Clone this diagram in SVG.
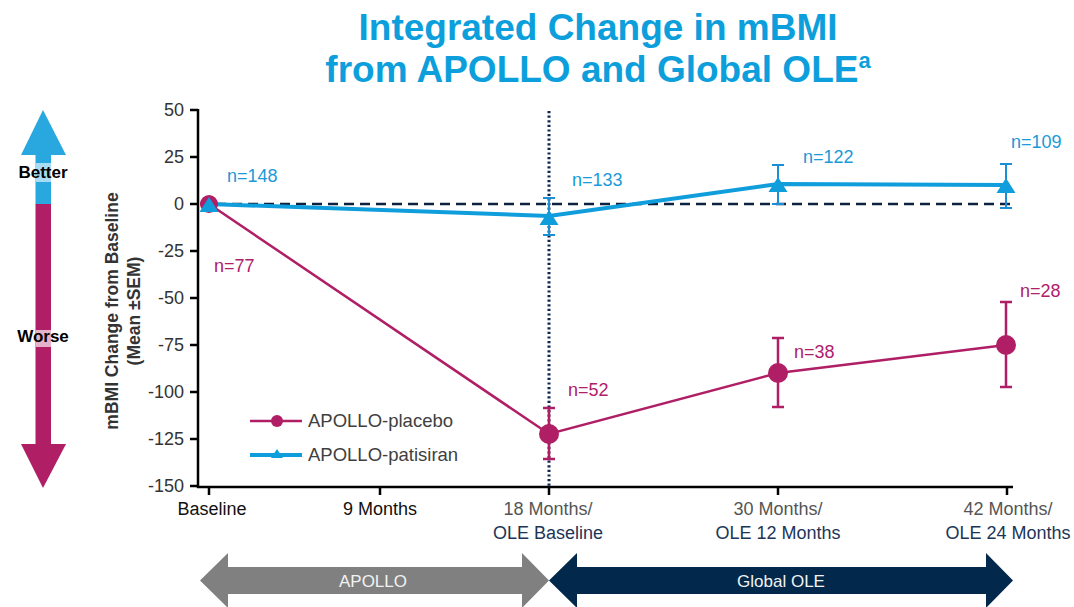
<svg xmlns="http://www.w3.org/2000/svg" width="1074" height="607" viewBox="0 0 1074 607">
<style>
text{font-family:"Liberation Sans",Arial,sans-serif}
.title{font-size:37px;font-weight:bold;fill:#0c9fdc;text-anchor:middle}
.tick{font-size:18px;fill:#333;text-anchor:end}
.xl{font-size:18px;text-anchor:middle}
.nb{font-size:18px;fill:#1a9ad8}
.nm{font-size:18px;fill:#b0206a}
.leg{font-size:18.5px;fill:#404040}
.bw{font-size:17px;font-weight:bold;fill:#000;text-anchor:middle}
.yt{font-size:17.5px;font-weight:bold;fill:#333;text-anchor:middle}
.ax{stroke:#000;stroke-width:2.5;fill:none}
.blue{stroke:#0f9ddb;stroke-width:4;fill:none}
.mag{stroke:#b01f65;stroke-width:2.5;fill:none}
.eb{stroke:#1a8fd6;stroke-width:2;fill:none}
.em{stroke:#b01f65;stroke-width:2.5;fill:none}
.tri{fill:#0f9ddb}
.dot{fill:#b01f65}
.band{font-size:17px;fill:#f2f2f2;text-anchor:middle}
</style>
<defs>
<path id="tr" d="M0,-8 L9.5,7 L-9.5,7 Z"/>
</defs>

<g id="title">
<text class="title" x="598" y="40">Integrated Change in mBMI</text>
<text class="title" x="598" y="82">from APOLLO and Global OLE<tspan font-size="22" dy="-14">a</tspan></text>
</g>

<g id="better-worse-arrow">
<polygon points="43,110 66,155 21,155" fill="#29a8e0"/>
<rect x="35.5" y="154" width="15.5" height="50.5" fill="#29a8e0"/>
<rect x="35.5" y="204" width="15.5" height="241" fill="#b01f65"/>
<polygon points="21,444 66,444 43,488" fill="#b01f65"/>
<rect x="35.5" y="163" width="15.5" height="19" fill="#a8dcf4"/>
<rect x="35.5" y="330" width="15.5" height="17" fill="#e6b2ca"/>
<text class="bw" x="43" y="178">Better</text>
<text class="bw" x="43" y="342">Worse</text>
</g>

<g id="y-axis">
<text class="yt" transform="translate(118,311) rotate(-90)">mBMI Change from Baseline</text>
<text class="yt" transform="translate(140,311) rotate(-90)">(Mean ±SEM)</text>
<line class="ax" x1="198" y1="109" x2="198" y2="488"/>
<path class="ax" d="M190,110H198M190,157H198M190,204H198M190,251H198M190,298H198M190,345H198M190,392H198M190,439H198M190,486H198"/>
<text class="tick" x="184" y="116">50</text>
<text class="tick" x="184" y="163">25</text>
<text class="tick" x="184" y="210">0</text>
<text class="tick" x="184" y="257">-25</text>
<text class="tick" x="184" y="304">-50</text>
<text class="tick" x="184" y="351">-75</text>
<text class="tick" x="184" y="398">-100</text>
<text class="tick" x="184" y="445">-125</text>
<text class="tick" x="184" y="492">-150</text>
</g>

<g id="x-axis">
<line class="ax" x1="197" y1="487" x2="1013" y2="487"/>
<path class="ax" d="M209,487V495M380,487V495M549,487V495M778,487V495M1007,487V495"/>
<text class="xl" x="212" y="515" fill="#111">Baseline</text>
<text class="xl" x="380" y="515" fill="#111">9 Months</text>
<text class="xl" x="548" y="515" fill="#555">18 Months/</text>
<text class="xl" x="548" y="539" fill="#1c3557">OLE Baseline</text>
<text class="xl" x="778" y="515" fill="#555">30 Months/</text>
<text class="xl" x="778" y="539" fill="#1c3557">OLE 12 Months</text>
<text class="xl" x="1008" y="515" fill="#555">42 Months/</text>
<text class="xl" x="1008" y="539" fill="#1c3557">OLE 24 Months</text>
</g>

<g id="connectors">
<line x1="200" y1="204" x2="1016" y2="204" stroke="#0d2240" stroke-width="2.5" stroke-dasharray="10 6"/>
<line x1="549" y1="111" x2="549" y2="486" stroke="#0f2650" stroke-width="3" stroke-dasharray="2.2 2.4"/>
<polyline class="mag" points="209,204 549,434 778,373 1006,345"/>
<polyline class="blue" points="209,204 549,216 778,184 1006,185"/>
</g>

<g id="placebo-points">
<path class="em" d="M549,408V459M543,408H555M543,459H555"/>
<path class="em" d="M778,338V407M772,338H784M772,407H784"/>
<path class="em" d="M1006,302V387M1000,302H1012M1000,387H1012"/>
<circle class="dot" cx="209" cy="204" r="9"/>
<circle class="dot" cx="549" cy="434" r="10"/>
<circle class="dot" cx="778" cy="373" r="10"/>
<circle class="dot" cx="1006" cy="345" r="10"/>
</g>

<g id="patisiran-points">
<path class="eb" d="M549,198V235M543,198H555M543,235H555"/>
<path class="eb" d="M778,165V204M772,165H784M772,204H784"/>
<path class="eb" d="M1006,164V208M1000,164H1012M1000,208H1012"/>
<use href="#tr" class="tri" x="209" y="205"/>
<use href="#tr" class="tri" x="549" y="218"/>
<use href="#tr" class="tri" x="778" y="185"/>
<use href="#tr" class="tri" x="1006" y="186"/>
</g>

<g id="n-labels">
<text class="nb" x="227" y="182">n=148</text>
<text class="nb" x="572" y="186">n=133</text>
<text class="nb" x="803" y="163">n=122</text>
<text class="nb" x="1011" y="148">n=109</text>
<text class="nm" x="214" y="272">n=77</text>
<text class="nm" x="568" y="396">n=52</text>
<text class="nm" x="794" y="358">n=38</text>
<text class="nm" x="1020" y="297">n=28</text>
</g>

<g id="legend">
<line x1="250" y1="421" x2="302" y2="421" stroke="#b01f65" stroke-width="2.5"/>
<circle class="dot" cx="277" cy="421" r="6"/>
<text class="leg" x="308" y="427">APOLLO-placebo</text>
<line x1="250" y1="455" x2="302" y2="455" stroke="#0f9ddb" stroke-width="4"/>
<path class="tri" d="M277,449 L283,458 L271,458 Z"/>
<text class="leg" x="308" y="461">APOLLO-patisiran</text>
</g>

<g id="phase-apollo">
<polygon points="200,580.5 228,553 228,567 522,567 522,553 549,580.5 522,608 522,594 228,594 228,608" fill="#808080"/>
<text class="band" x="373" y="587">APOLLO</text>
</g>
<g id="phase-ole">
<polygon points="549,580.5 577,553 577,567 986,567 986,553 1013,580.5 986,608 986,594 577,594 577,608" fill="#02284c"/>
<text class="band" x="781" y="587">Global OLE</text>
</g>
</svg>
